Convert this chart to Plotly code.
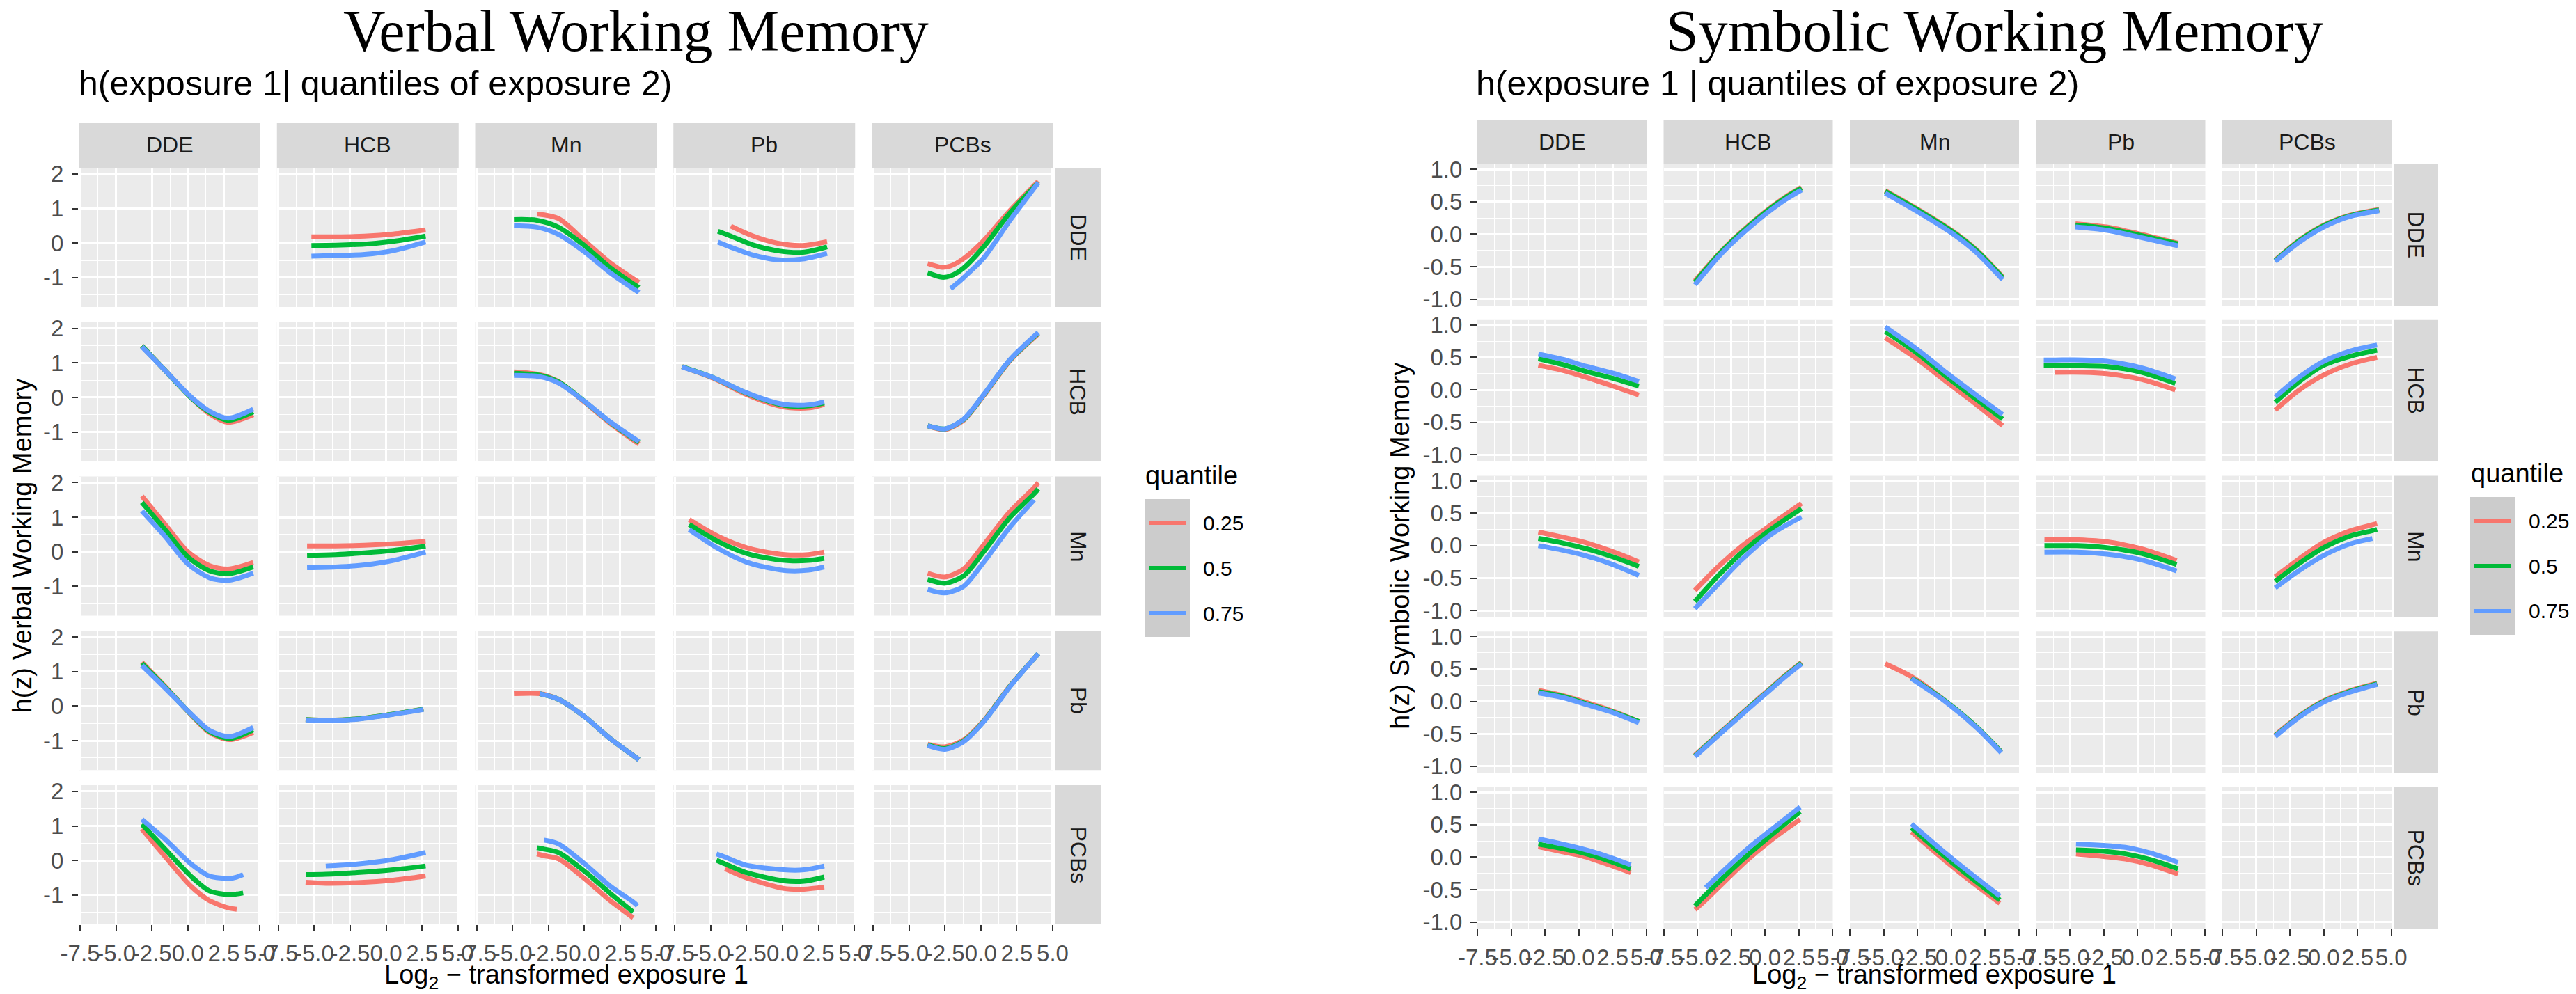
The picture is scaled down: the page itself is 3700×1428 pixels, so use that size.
import plotly.graph_objects as go

# ------------------------------------------------------------------ data
EXPOSURES = ["DDE", "HCB", "Mn", "Pb", "PCBs"]
QUANTILES = ["0.25", "0.5", "0.75"]
Q_COLORS = ["#F8766D", "#00BA38", "#619CFF"]

X_TICKS = [-7.5, -5.0, -2.5, 0.0, 2.5, 5.0]
X_TICK_TEXT = ["-7.5", "-5.0", "-2.5", "0.0", "2.5", "5.0"]
X_MINOR = [-6.25, -3.75, -1.25, 1.25, 3.75]

V_Y_TICKS = [-1, 0, 1, 2]
V_Y_TICK_TEXT = ["-1", "0", "1", "2"]
V_Y_MINOR = [-1.5, -0.5, 0.5, 1.5]

S_Y_TICKS = [-1.0, -0.5, 0.0, 0.5, 1.0]
S_Y_TICK_TEXT = ["-1.0", "-0.5", "0.0", "0.5", "1.0"]
S_Y_MINOR = [-0.75, -0.25, 0.25, 0.75]

# Verbal working memory: (exposure-1 grid, q0.25, q0.5, q0.75); name = V_<exposure2>_<exposure1>
V_DDE_HCB = ([-5.2, -3.5, -1.5, 0.5, 2.75],
             [0.18, 0.18, 0.20, 0.26, 0.38],
             [-0.07, -0.06, -0.03, 0.05, 0.20],
             [-0.38, -0.36, -0.33, -0.22, 0.03])
V_DDE_Mn = ([-4.9, -3.3, -1.8, 0.0, 1.8, 3.8],
            [None, 0.84, 0.71, 0.07, -0.57, -1.14],
            [0.68, 0.66, 0.46, -0.07, -0.71, -1.29],
            [0.50, 0.46, 0.25, -0.25, -0.86, -1.43])
V_DDE_Pb = ([-4.5, -3.6, -2.1, -0.4, 1.4, 3.1],
            [None, 0.49, 0.21, 0.00, -0.07, 0.04],
            [0.34, 0.20, -0.05, -0.22, -0.27, -0.11],
            [0.03, -0.12, -0.34, -0.48, -0.46, -0.30])
V_DDE_PCBs = ([-3.7, -2.7, -2.1, -1.2, 0.2, 2.0, 4.0],
              [-0.59, -0.70, -0.66, -0.45, 0.07, 0.93, 1.79],
              [-0.86, -0.99, -0.95, -0.72, -0.11, 0.86, 1.75],
              [None, None, -1.32, -1.00, -0.43, 0.64, 1.75])

V_HCB_DDE = ([-3.2, -1.6, 0.2, 1.5, 2.8, 4.55],
             [1.49, 0.79, 0.00, -0.47, -0.72, -0.50],
             [1.49, 0.79, 0.00, -0.43, -0.66, -0.42],
             [1.47, 0.79, 0.02, -0.40, -0.60, -0.34])
V_HCB_Mn = ([-4.9, -3.1, -1.8, 0.0, 1.8, 3.8],
            [0.74, 0.66, 0.46, -0.13, -0.75, -1.35],
            [0.70, 0.64, 0.45, -0.11, -0.72, -1.30],
            [0.64, 0.60, 0.42, -0.11, -0.71, -1.28])
V_HCB_Pb = ([-7.0, -4.8, -2.6, -0.4, 0.5, 1.9, 2.9],
            [0.89, 0.55, 0.10, -0.23, -0.30, -0.30, -0.20],
            [0.89, 0.57, 0.14, -0.18, -0.25, -0.24, -0.16],
            [0.88, 0.57, 0.15, -0.16, -0.22, -0.21, -0.13])
V_HCB_PCBs = ([-3.7, -2.5, -1.2, 0.2, 2.0, 4.0],
              [-0.82, -0.93, -0.66, 0.05, 1.05, 1.84],
              [-0.82, -0.91, -0.64, 0.07, 1.07, 1.86],
              [-0.82, -0.91, -0.63, 0.08, 1.08, 1.88])

V_Mn_DDE = ([-3.2, -1.6, 0.0, 1.5, 2.8, 4.55],
            [1.61, 0.80, 0.00, -0.40, -0.50, -0.31],
            [1.43, 0.65, -0.15, -0.55, -0.64, -0.44],
            [1.18, 0.45, -0.35, -0.75, -0.83, -0.62])
V_Mn_HCB = ([-5.5, -3.5, -1.5, 0.5, 2.75],
            [0.17, 0.17, 0.19, 0.23, 0.30],
            [-0.10, -0.08, -0.03, 0.04, 0.16],
            [-0.46, -0.44, -0.38, -0.25, -0.01])
V_Mn_Pb = ([-6.5, -4.5, -2.5, -0.5, 0.5, 1.8, 2.9],
           [0.93, 0.45, 0.12, -0.05, -0.09, -0.08, -0.01],
           [0.79, 0.30, -0.05, -0.22, -0.26, -0.25, -0.19],
           [0.64, 0.10, -0.30, -0.50, -0.55, -0.53, -0.44])
V_Mn_PCBs = ([-3.7, -2.5, -1.2, 0.2, 2.0, 3.7, 4.0],
             [-0.62, -0.73, -0.50, 0.20, 1.15, 1.85, 2.00],
             [-0.80, -0.91, -0.70, 0.00, 0.98, 1.68, 1.82],
             [-1.09, -1.19, -1.00, -0.30, 0.70, 1.50, None])

V_Pb_DDE = ([-3.2, -1.6, 0.2, 1.5, 2.9, 4.55],
            [1.27, 0.58, -0.24, -0.76, -0.97, -0.76],
            [1.24, 0.56, -0.23, -0.73, -0.94, -0.69],
            [1.18, 0.53, -0.22, -0.70, -0.88, -0.62])
V_Pb_HCB = ([-5.6, -4.0, -2.0, 0.0, 2.6],
            [-0.39, -0.41, -0.37, -0.26, -0.09],
            [-0.39, -0.41, -0.37, -0.26, -0.09],
            [-0.40, -0.42, -0.38, -0.27, -0.10])
V_Pb_Mn = ([-4.9, -3.1, -1.8, 0.0, 1.8, 3.8],
           [0.36, 0.36, 0.20, -0.30, -0.94, -1.55],
           [None, 0.36, 0.20, -0.30, -0.94, -1.55],
           [None, 0.36, 0.20, -0.30, -0.94, -1.55])
V_Pb_PCBs = ([-3.7, -2.5, -1.2, 0.2, 2.0, 4.0],
             [-1.10, -1.18, -0.98, -0.42, 0.57, 1.52],
             [-1.12, -1.23, -1.01, -0.44, 0.56, 1.52],
             [-1.14, -1.25, -1.03, -0.45, 0.55, 1.52])

V_PCBs_DDE = ([-3.2, -1.6, 0.2, 1.5, 2.9, 3.4, 3.85],
              [0.91, 0.12, -0.74, -1.16, -1.38, -1.41, None],
              [1.05, 0.34, -0.45, -0.88, -0.99, -0.97, -0.94],
              [1.19, 0.62, -0.09, -0.45, -0.52, -0.48, -0.41])
V_PCBs_HCB = ([-5.6, -4.2, -2.0, 0.5, 2.75],
              [-0.63, -0.66, -0.64, -0.57, -0.45],
              [-0.41, -0.40, -0.35, -0.27, -0.16],
              [None, -0.16, -0.10, 0.03, 0.23])
V_PCBs_Mn = ([-3.3, -2.8, -1.8, 0.0, 1.8, 3.4, 3.7],
             [0.19, 0.14, 0.05, -0.52, -1.16, -1.66, None],
             [0.37, 0.33, 0.23, -0.31, -0.95, -1.49, None],
             [None, 0.59, 0.48, -0.09, -0.74, -1.20, -1.31])
V_PCBs_Pb = ([-4.6, -4.0, -2.6, 0.1, 1.5, 2.9],
             [None, -0.24, -0.49, -0.81, -0.83, -0.77],
             [0.01, -0.10, -0.34, -0.59, -0.60, -0.48],
             [0.19, 0.10, -0.13, -0.27, -0.27, -0.16])

# Symbolic working memory
S_DDE_HCB = ([-5.2, -3.5, -2.35, -1.0, 0.17, 1.5, 2.7],
             [-0.72, -0.32, -0.08, 0.17, 0.37, 0.57, 0.72],
             [-0.74, -0.33, -0.09, 0.16, 0.36, 0.56, 0.71],
             [-0.78, -0.36, -0.12, 0.13, 0.33, 0.53, 0.68])
S_DDE_Mn = ([-4.9, -2.3, 0.0, 1.9, 3.8],
            [0.67, 0.36, 0.06, -0.25, -0.66],
            [0.66, 0.35, 0.05, -0.26, -0.67],
            [0.63, 0.32, 0.02, -0.29, -0.70])
S_DDE_Pb = ([-4.6, -2.3, 0.0, 3.0],
            [0.16, 0.11, 0.01, -0.14],
            [0.14, 0.09, -0.01, -0.15],
            [0.11, 0.06, -0.04, -0.18])
S_DDE_PCBs = ([-3.6, -1.8, 0.0, 1.9, 4.1],
              [-0.40, -0.09, 0.14, 0.29, 0.38],
              [-0.41, -0.10, 0.13, 0.28, 0.37],
              [-0.42, -0.12, 0.11, 0.27, 0.36])

S_HCB_DDE = ([-3.0, -1.2, 0.6, 2.5, 4.45],
             [0.38, 0.30, 0.19, 0.06, -0.08],
             [0.48, 0.39, 0.28, 0.18, 0.06],
             [0.55, 0.47, 0.36, 0.26, 0.13])
S_HCB_Mn = ([-4.9, -2.5, -0.4, 1.7, 3.8],
            [0.80, 0.47, 0.13, -0.20, -0.55],
            [0.90, 0.56, 0.21, -0.12, -0.45],
            [0.97, 0.62, 0.27, -0.06, -0.38])
S_HCB_Pb = ([-6.95, -6.1, -4.0, -2.3, 0.3, 2.8],
            [None, 0.27, 0.27, 0.25, 0.16, 0.00],
            [0.38, 0.38, 0.37, 0.36, 0.27, 0.10],
            [0.46, 0.46, 0.46, 0.44, 0.34, 0.17])
S_HCB_PCBs = ([-3.6, -1.8, 0.0, 2.0, 3.95],
              [-0.31, 0.00, 0.23, 0.40, 0.50],
              [-0.19, 0.13, 0.38, 0.52, 0.61],
              [-0.11, 0.20, 0.44, 0.60, 0.69])

S_Mn_DDE = ([-3.0, -1.2, 0.6, 2.5, 4.45],
            [0.21, 0.13, 0.04, -0.09, -0.25],
            [0.11, 0.04, -0.05, -0.17, -0.32],
            [0.00, -0.07, -0.16, -0.29, -0.46])
S_Mn_HCB = ([-5.2, -3.5, -1.8, 0.5, 2.7],
            [-0.69, -0.33, -0.02, 0.33, 0.65],
            [-0.86, -0.47, -0.12, 0.26, 0.57],
            [-0.97, -0.60, -0.23, 0.18, 0.44])
S_Mn_Pb = ([-6.9, -4.5, -2.3, 0.3, 2.9],
           [0.10, 0.09, 0.06, -0.05, -0.23],
           [0.00, 0.00, -0.03, -0.12, -0.29],
           [-0.10, -0.10, -0.13, -0.22, -0.39])
S_Mn_PCBs = ([-3.6, -1.8, 0.0, 2.0, 3.6, 3.95],
             [-0.48, -0.20, 0.05, 0.23, 0.32, 0.34],
             [-0.55, -0.27, -0.03, 0.15, 0.23, 0.25],
             [-0.65, -0.38, -0.15, 0.03, 0.11, None])

S_Pb_DDE = ([-3.0, -1.2, 0.6, 2.5, 4.45],
            [0.17, 0.09, -0.02, -0.15, -0.31],
            [0.15, 0.08, -0.04, -0.16, -0.31],
            [0.13, 0.06, -0.05, -0.17, -0.33])
S_Pb_HCB = ([-5.2, -3.5, -2.35, -1.0, 0.17, 1.5, 2.7],
            [-0.83, -0.51, -0.30, -0.05, 0.16, 0.40, 0.60],
            [-0.84, -0.52, -0.31, -0.06, 0.15, 0.39, 0.59],
            [-0.85, -0.53, -0.32, -0.07, 0.14, 0.38, 0.58])
S_Pb_Mn = ([-4.9, -2.95, -0.4, 1.9, 3.7],
           [0.58, 0.38, 0.00, -0.40, -0.78],
           [None, 0.36, 0.00, -0.40, -0.78],
           [None, 0.35, -0.01, -0.41, -0.79])
S_Pb_PCBs = ([-3.6, -1.8, 0.0, 1.9, 3.95],
             [-0.52, -0.22, 0.01, 0.16, 0.28],
             [-0.53, -0.23, 0.00, 0.15, 0.27],
             [-0.54, -0.24, -0.01, 0.14, 0.26])

S_PCBs_DDE = ([-3.0, -1.2, 0.2, 2.0, 3.85],
              [0.16, 0.08, 0.02, -0.10, -0.24],
              [0.20, 0.13, 0.07, -0.04, -0.18],
              [0.28, 0.20, 0.13, 0.02, -0.12])
S_PCBs_HCB = ([-5.2, -4.4, -1.4, 0.7, 2.6],
              [-0.81, -0.66, -0.06, 0.30, 0.58],
              [-0.75, -0.58, 0.01, 0.38, 0.70],
              [None, -0.47, 0.11, 0.46, 0.77])
S_PCBs_Mn = ([-2.95, -1.0, 1.0, 3.6],
             [0.39, 0.04, -0.30, -0.71],
             [0.45, 0.10, -0.24, -0.66],
             [0.51, 0.16, -0.18, -0.60])
S_PCBs_Pb = ([-4.56, -2.5, -0.9, 1.0, 3.0],
             [0.05, 0.01, -0.03, -0.12, -0.26],
             [0.11, 0.09, 0.05, -0.04, -0.18],
             [0.20, 0.18, 0.15, 0.06, -0.08])

V_PANELS = {
    ("DDE", "HCB"): V_DDE_HCB, ("DDE", "Mn"): V_DDE_Mn, ("DDE", "Pb"): V_DDE_Pb, ("DDE", "PCBs"): V_DDE_PCBs,
    ("HCB", "DDE"): V_HCB_DDE, ("HCB", "Mn"): V_HCB_Mn, ("HCB", "Pb"): V_HCB_Pb, ("HCB", "PCBs"): V_HCB_PCBs,
    ("Mn", "DDE"): V_Mn_DDE, ("Mn", "HCB"): V_Mn_HCB, ("Mn", "Pb"): V_Mn_Pb, ("Mn", "PCBs"): V_Mn_PCBs,
    ("Pb", "DDE"): V_Pb_DDE, ("Pb", "HCB"): V_Pb_HCB, ("Pb", "Mn"): V_Pb_Mn, ("Pb", "PCBs"): V_Pb_PCBs,
    ("PCBs", "DDE"): V_PCBs_DDE, ("PCBs", "HCB"): V_PCBs_HCB, ("PCBs", "Mn"): V_PCBs_Mn, ("PCBs", "Pb"): V_PCBs_Pb,
}
S_PANELS = {
    ("DDE", "HCB"): S_DDE_HCB, ("DDE", "Mn"): S_DDE_Mn, ("DDE", "Pb"): S_DDE_Pb, ("DDE", "PCBs"): S_DDE_PCBs,
    ("HCB", "DDE"): S_HCB_DDE, ("HCB", "Mn"): S_HCB_Mn, ("HCB", "Pb"): S_HCB_Pb, ("HCB", "PCBs"): S_HCB_PCBs,
    ("Mn", "DDE"): S_Mn_DDE, ("Mn", "HCB"): S_Mn_HCB, ("Mn", "Pb"): S_Mn_Pb, ("Mn", "PCBs"): S_Mn_PCBs,
    ("Pb", "DDE"): S_Pb_DDE, ("Pb", "HCB"): S_Pb_HCB, ("Pb", "Mn"): S_Pb_Mn, ("Pb", "PCBs"): S_Pb_PCBs,
    ("PCBs", "DDE"): S_PCBs_DDE, ("PCBs", "HCB"): S_PCBs_HCB, ("PCBs", "Mn"): S_PCBs_Mn, ("PCBs", "Pb"): S_PCBs_Pb,
}

# ------------------------------------------------------------------ layout
W, H = 3700, 1428
SANS = "Liberation Sans, Arial, Helvetica, sans-serif"
SERIF = "Liberation Serif, Times New Roman, serif"


def fx(x):
    return x / W


def fy(y):
    return 1 - y / H


def note(x, y, text, size, family=SANS, color="black", xanchor="center", yanchor="middle", angle=0):
    return dict(x=fx(x), y=fy(y), xref="paper", yref="paper", text=text, showarrow=False,
                xanchor=xanchor, yanchor=yanchor, textangle=angle,
                font=dict(family=family, size=size, color=color))


CHARTS = [
    dict(panels=V_PANELS, title="Verbal Working Memory", title_x=905,
         subtitle="h(exposure 1| quantiles of exposure 2)", sub_x=103,
         ytitle="h(z) Verbal Working Memory", ytitle_x=24,
         x0=105, xpitch=284.75, pw=261, y0=233, ypitch=221.75, ph=200,
         strip_top=168, strip_r=(1508, 1573), xrange=[-7.6, 5.05], yrange=[-1.85, 2.18],
         yticks=V_Y_TICKS, ytext=V_Y_TICK_TEXT, yminor=V_Y_MINOR,
         leg_x=1636, leg_y=709),
    dict(panels=S_PANELS, title="Symbolic Working Memory", title_x=2857,
         subtitle="h(exposure 1 | quantiles of exposure 2)", sub_x=2110,
         ytitle="h(z) Symbolic Working Memory", ytitle_x=2003,
         x0=2114, xpitch=267.5, pw=243, y0=228, ypitch=223.75, ph=203,
         strip_top=165, strip_r=(3430, 3494), xrange=[-7.52, 5.02], yrange=[-1.10, 1.075],
         yticks=S_Y_TICKS, ytext=S_Y_TICK_TEXT, yminor=S_Y_MINOR,
         leg_x=3540, leg_y=706),
]

fig = go.Figure()
layout_axes = {}
shapes = []
annotations = []

for c, ch in enumerate(CHARTS):
    for r, rowname in enumerate(EXPOSURES):
        for j, colname in enumerate(EXPOSURES):
            idx = c * 25 + r * 5 + j + 1
            xname = "xaxis" if idx == 1 else f"xaxis{idx}"
            yname = "yaxis" if idx == 1 else f"yaxis{idx}"
            xref = "x" if idx == 1 else f"x{idx}"
            yref = "y" if idx == 1 else f"y{idx}"
            px0 = ch["x0"] + j * ch["xpitch"]
            py0 = ch["y0"] + r * ch["ypitch"]
            bottom = r == 4
            left = j == 0
            layout_axes[xname] = dict(
                domain=[fx(px0), fx(px0 + ch["pw"])], anchor=yref, range=ch["xrange"],
                tickvals=X_TICKS, ticktext=X_TICK_TEXT, tickangle=0, automargin=False,
                showgrid=True, gridcolor="white", gridwidth=2.6,
                minor=dict(tickvals=X_MINOR, showgrid=True, gridcolor="white", gridwidth=1.3),
                zeroline=False, showline=False,
                ticks="outside" if bottom else "", ticklen=9, tickwidth=2, tickcolor="#333333",
                showticklabels=bottom, ticklabelstandoff=3,
                tickfont=dict(family=SANS, size=33, color="#4D4D4D"), fixedrange=True)
            layout_axes[yname] = dict(
                domain=[fy(py0 + ch["ph"]), fy(py0)], anchor=xref, range=ch["yrange"],
                tickvals=ch["yticks"], ticktext=ch["ytext"], automargin=False,
                showgrid=True, gridcolor="white", gridwidth=2.6,
                minor=dict(tickvals=ch["yminor"], showgrid=True, gridcolor="white", gridwidth=1.3),
                zeroline=False, showline=False,
                ticks="outside" if left else "", ticklen=9, tickwidth=2, tickcolor="#333333",
                showticklabels=left, ticklabelstandoff=5,
                tickfont=dict(family=SANS, size=33, color="#4D4D4D"), fixedrange=True)
            data = ch["panels"].get((rowname, colname))
            if data is None:
                fig.add_trace(go.Scatter(x=[None], y=[None], xaxis=xref, yaxis=yref,
                                         mode="lines", showlegend=False, hoverinfo="skip"))
                continue
            xs = data[0]
            for q in range(3):
                fig.add_trace(go.Scatter(
                    x=xs, y=data[q + 1], xaxis=xref, yaxis=yref, mode="lines",
                    line=dict(color=Q_COLORS[q], width=7, shape="spline", smoothing=0.8),
                    connectgaps=False, showlegend=False, name=QUANTILES[q]))

        # right strip for the row
        py0 = ch["y0"] + r * ch["ypitch"]
        sx0, sx1 = ch["strip_r"]
        shapes.append(dict(type="rect", xref="paper", yref="paper",
                           x0=fx(sx0), x1=fx(sx1), y0=fy(py0 + ch["ph"]), y1=fy(py0),
                           fillcolor="#D9D9D9", line=dict(width=0), layer="below"))
        annotations.append(note((sx0 + sx1) / 2, py0 + ch["ph"] / 2, rowname, 32,
                                color="#1A1A1A", angle=90))
    # top strips
    for j, colname in enumerate(EXPOSURES):
        px0 = ch["x0"] + j * ch["xpitch"]
        shapes.append(dict(type="rect", xref="paper", yref="paper",
                           x0=fx(px0), x1=fx(px0 + ch["pw"]), y0=fy(ch["y0"]), y1=fy(ch["strip_top"]),
                           fillcolor="#D9D9D9", line=dict(width=0), layer="below"))
        annotations.append(note(px0 + ch["pw"] / 2, (ch["strip_top"] + ch["y0"]) / 2, colname, 32,
                                color="#1A1A1A"))
    # titles
    annotations.append(note(ch["title_x"], 36, ch["title"], 84, family=SERIF))
    annotations.append(note(ch["sub_x"], 112, ch["subtitle"], 50, xanchor="left"))
    total_w = 4 * ch["xpitch"] + ch["pw"]
    ybot = ch["y0"] + 4 * ch["ypitch"] + ch["ph"]
    annotations.append(note(ch["x0"] + total_w / 2, 1395,
                            "Log<sub>2</sub> \u2212 transformed exposure 1", 38))
    annotations.append(note(ch["ytitle_x"], (ch["y0"] + ybot) / 2, ch["ytitle"], 38, angle=-90))
    # legend (drawn manually)
    lx, ly = ch["leg_x"], ch["leg_y"]
    annotations.append(note(lx - 1, ly - 34, "quantile", 38, xanchor="left"))
    shapes.append(dict(type="rect", xref="paper", yref="paper", x0=fx(lx), x1=fx(lx + 65),
                       y0=fy(ly + 198), y1=fy(ly), fillcolor="#CCCCCC", line=dict(width=0), layer="below"))
    for q in range(3):
        ky = ly + 34 + q * 65
        shapes.append(dict(type="line", xref="paper", yref="paper", x0=fx(lx + 6), x1=fx(lx + 59),
                           y0=fy(ky), y1=fy(ky), line=dict(color=Q_COLORS[q], width=6)))
        annotations.append(note(lx + 82, ky, QUANTILES[q], 30, xanchor="left"))

fig.update_layout(
    width=W, height=H, autosize=False,
    margin=dict(l=0, r=0, t=0, b=0, pad=0),
    paper_bgcolor="white", plot_bgcolor="#EBEBEB",
    showlegend=False, shapes=shapes, annotations=annotations,
    **layout_axes)

fig.write_html("out.html")
